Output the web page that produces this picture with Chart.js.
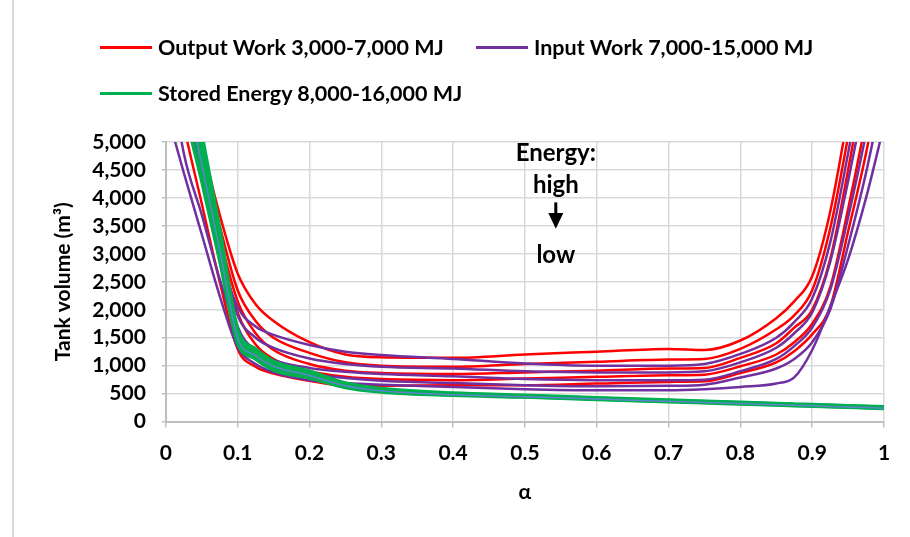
<!DOCTYPE html>
<html>
<head>
<meta charset="utf-8">
<title>Tank volume vs alpha</title>
<script src="https://cdn.jsdelivr.net/npm/chart.js@4.4.0/dist/chart.umd.min.js"></script>
<style>
  html, body { margin: 0; padding: 0; background: #fff; }
  #wrap { position: relative; width: 910px; height: 537px; font-family: Lato, sans-serif; font-weight: bold; }
  #frame { position: absolute; left: 12px; top: 0; bottom: 0; border-left: 2px solid #D9D9D9; }
  .item { position: absolute; display: flex; align-items: center; font-size: 21.5px; white-space: nowrap; color: #000; }
  .item .swatch { display: inline-block; width: 52px; height: 3px; margin-right: 6px; }
  canvas { position: absolute; left: 0; top: 0; }
</style>
</head>
<body>
<div id="wrap">
  <div id="frame"></div>
  <canvas id="chart" width="910" height="537"></canvas>
</div>
<script>
// alpha grid the curves were read at
const alpha = [0, 0.025, 0.05, 0.075, 0.1, 0.125, 0.15, 0.2, 0.25, 0.3, 0.4, 0.5, 0.6, 0.7, 0.75, 0.8, 0.85, 0.875, 0.9, 0.925, 0.95, 0.975, 1];

// Output work (red), high -> low energy
const outWork7000 = [8000, 6500, 5000, 3700, 2650, 2100, 1800, 1420, 1200, 1150, 1140, 1200, 1250, 1300, 1280, 1450, 1850, 2150, 2600, 3750, 5500, 7500, 9500];
const outWork6000 = [7800, 6200, 4800, 3500, 2350, 1800, 1500, 1230, 1060, 1000, 980, 1030, 1070, 1110, 1120, 1300, 1650, 1900, 2350, 3450, 5100, 7000, 9000];
const outWork5000 = [7500, 6000, 4600, 3300, 2150, 1580, 1280, 1030, 910, 870, 850, 880, 910, 950, 960, 1140, 1400, 1680, 2000, 2900, 4500, 6300, 8000];
const outWork4000 = [7300, 5900, 4500, 3150, 1950, 1380, 1120, 900, 800, 760, 740, 770, 800, 830, 840, 990, 1200, 1420, 1750, 2400, 3800, 5400, 7200];
const outWork3000 = [7000, 5300, 3900, 2500, 1300, 980, 860, 730, 640, 640, 650, 650, 680, 710, 720, 870, 1060, 1260, 1560, 2050, 3400, 4800, 6500];

// Input work (purple), high -> low energy
const inWork15000 = [7500, 6000, 4700, 3000, 2050, 1700, 1550, 1370, 1250, 1190, 1120, 1040, 1000, 1000, 1030, 1210, 1500, 1780, 2200, 3200, 4800, 6600, 8500];
const inWork13000 = [7400, 6100, 4650, 3150, 1900, 1500, 1320, 1130, 1030, 980, 950, 900, 880, 880, 900, 1060, 1320, 1580, 1950, 2850, 4300, 5900, 7600];
const inWork11000 = [7200, 5900, 4450, 2950, 1700, 1270, 1100, 960, 890, 850, 810, 760, 740, 740, 750, 900, 1120, 1350, 1680, 2350, 3650, 5150, 6800];
const inWork9000 = [6800, 4800, 3700, 2550, 1600, 1220, 1020, 860, 780, 730, 690, 650, 630, 640, 660, 790, 950, 1120, 1420, 2000, 3150, 4450, 6000];
const inWork7000 = [5600, 4450, 3350, 2250, 1330, 1030, 880, 740, 690, 660, 620, 580, 560, 560, 580, 620, 680, 790, 1280, 2050, 2900, 4000, 5300];

// Stored energy (green) and the thin blue line inside the band
const stored16000 = [9000, 7000, 5150, 3450, 1650, 1300, 1080, 900, 690, 590, 510, 470, 425, 385, 365, 345, 325, 315, 305, 295, 285, 275, 265];
const stored14000 = [8700, 6700, 4950, 3300, 1590, 1250, 1040, 870, 670, 575, 500, 460, 418, 378, 358, 338, 318, 308, 298, 288, 278, 268, 258];
const stored12000 = [8400, 6400, 4750, 3150, 1530, 1200, 1000, 840, 650, 560, 490, 452, 410, 370, 350, 330, 310, 300, 290, 280, 270, 260, 250];
const stored10000 = [8100, 6100, 4550, 3020, 1470, 1160, 960, 810, 630, 545, 480, 445, 402, 362, 342, 322, 302, 292, 282, 272, 262, 252, 242];
const stored8000 = [7800, 5700, 4300, 2880, 1410, 1120, 920, 780, 610, 530, 470, 438, 395, 355, 335, 315, 295, 285, 275, 265, 255, 245, 235];
const storedMid = [8200, 6200, 4600, 3080, 1500, 1180, 990, 825, 640, 550, 480, 445, 402, 362, 342, 322, 302, 292, 282, 272, 262, 252, 240];

const legendLabels = ['Output Work 3,000-7,000 MJ', 'Input Work 7,000-15,000 MJ', 'Stored Energy 8,000-16,000 MJ'];
const xTickLabels = ['0', '0.1', '0.2', '0.3', '0.4', '0.5', '0.6', '0.7', '0.8', '0.9', '1'];
const noteLines = ['Energy:', 'high', 'low'];

const RED = '#FF0000';
const PURPLE = '#7030A0';
const GREEN = '#00B050';
const BLUE = '#5F84CC';

function series(values, color, width, order) {
  return {
    data: alpha.map((a, i) => ({ x: a, y: values[i] })),
    borderColor: color,
    backgroundColor: color,
    borderWidth: width,
    pointRadius: 0,
    cubicInterpolationMode: 'monotone',
    clip: 0,
    order: order
  };
}

const datasets = [
  series(storedMid, BLUE, 1.5, 0),
  ...[stored16000, stored14000, stored12000, stored10000, stored8000].map(v => series(v, GREEN, 3.5, 1)),
  ...[inWork15000, inWork13000, inWork11000, inWork9000, inWork7000].map(v => series(v, PURPLE, 2.5, 2)),
  ...[outWork7000, outWork6000, outWork5000, outWork4000, outWork3000].map(v => series(v, RED, 2.5, 3))
];

// HTML legend, Excel-style columns
const legendSpots = [
  { left: 100, top: 47, color: RED },
  { left: 476, top: 47, color: PURPLE },
  { left: 100, top: 93, color: GREEN }
];
const wrap = document.getElementById('wrap');
legendLabels.forEach((txt, i) => {
  const el = document.createElement('div');
  el.className = 'item';
  el.style.left = legendSpots[i].left + 'px';
  el.style.top = (legendSpots[i].top - 13) + 'px';
  el.style.height = '26px';
  const sw = document.createElement('span');
  sw.className = 'swatch';
  sw.style.background = legendSpots[i].color;
  el.appendChild(sw);
  el.appendChild(document.createTextNode(txt));
  wrap.appendChild(el);
});

// "Energy: high -> low" note, placed in data units
const energyNote = {
  id: 'energyNote',
  afterDatasetsDraw(chart) {
    const { ctx, scales: { x, y } } = chart;
    const cx = x.getPixelForValue(0.543);
    ctx.save();
    ctx.fillStyle = '#000';
    ctx.font = 'bold 24px Lato, sans-serif';
    ctx.textAlign = 'center';
    ctx.textBaseline = 'middle';
    ctx.fillText(noteLines[0], cx, y.getPixelForValue(4800));
    ctx.fillText(noteLines[1], cx, y.getPixelForValue(4230));
    ctx.fillText(noteLines[2], cx, y.getPixelForValue(2970));
    // arrow
    const top = y.getPixelForValue(3920);
    const base = y.getPixelForValue(3730);
    const tip = y.getPixelForValue(3450);
    ctx.fillRect(cx - 1.5, top, 3, base - top + 1);
    ctx.beginPath();
    ctx.moveTo(cx - 7.5, base);
    ctx.lineTo(cx + 7.5, base);
    ctx.lineTo(cx, tip);
    ctx.closePath();
    ctx.fill();
    ctx.restore();
  }
};

new Chart(document.getElementById('chart').getContext('2d'), {
  type: 'line',
  data: { datasets },
  plugins: [energyNote],
  options: {
    responsive: false,
    animation: false,
    devicePixelRatio: 1,
    layout: { padding: { left: 41, right: 26, top: 142, bottom: 32 } },
    plugins: {
      legend: { display: false },
      tooltip: { enabled: false }
    },
    scales: {
      x: {
        type: 'linear',
        min: 0,
        max: 1,
        ticks: {
          stepSize: 0.1,
          autoSkip: false,
          color: '#000',
          font: { family: 'Lato', size: 21, weight: 'bold' },
          padding: 13,
          maxRotation: 0,
          callback: (v, i) => xTickLabels[i]
        },
        grid: { color: '#D9D9D9', lineWidth: 1.5, tickLength: 6, tickColor: '#BFBFBF' },
        border: { color: '#BFBFBF', width: 2 },
        title: {
          display: true,
          text: 'α',
          color: '#000',
          font: { family: 'Lato', size: 21, weight: 'bold' },
          padding: { top: 1, bottom: 0 }
        }
      },
      y: {
        min: 0,
        max: 5000,
        ticks: {
          stepSize: 500,
          autoSkip: false,
          color: '#000',
          font: { family: 'Lato', size: 21, weight: 'bold' },
          padding: 16
        },
        grid: { color: '#D9D9D9', lineWidth: 1.5, tickLength: 4, tickColor: '#BFBFBF' },
        border: { color: '#BFBFBF', width: 2 },
        title: {
          display: true,
          text: 'Tank volume (m³)',
          color: '#000',
          font: { family: 'Lato', size: 21, weight: 'bold' },
          padding: { top: 10, bottom: 0 }
        }
      }
    }
  }
});
</script>
</body>
</html>
